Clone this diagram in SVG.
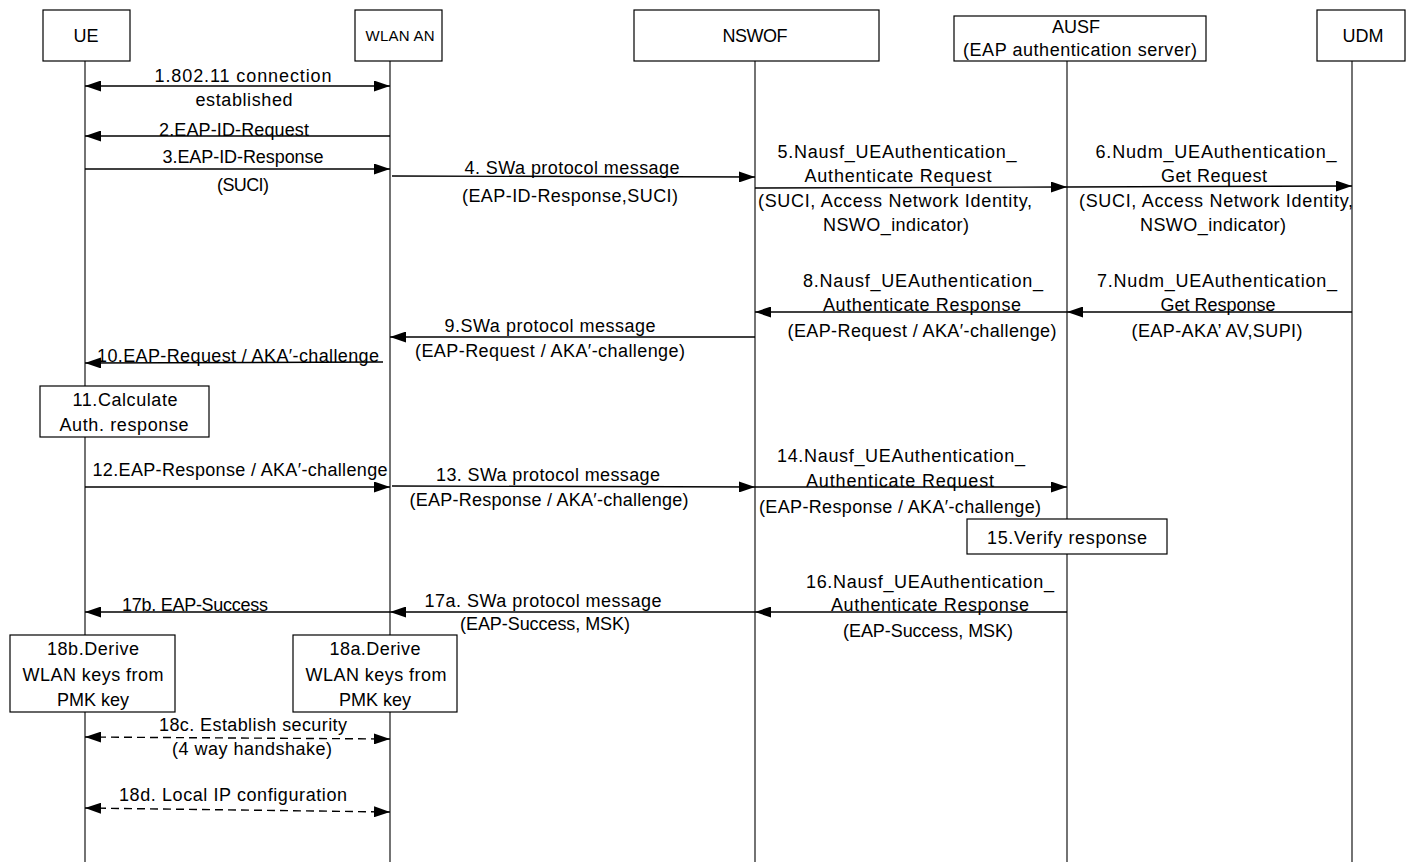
<svg xmlns="http://www.w3.org/2000/svg" width="1408" height="862" viewBox="0 0 1408 862">
<style>
text{font-family:"Liberation Sans",Arial,sans-serif;font-size:18px;fill:#000;text-anchor:middle}
.hdr{font-size:18px}
.small{font-size:15px}
.box{fill:#fff;stroke:#000;stroke-width:1.2}
.life{stroke:#000;stroke-width:1.1;fill:none}
.msg{stroke:#000;stroke-width:1.4;fill:none;marker-end:url(#ah)}
.both{marker-start:url(#ah)}
.dash{stroke-dasharray:8 5}
</style>
<defs>
<marker id="ah" viewBox="0 0 16 11" refX="16" refY="5.5" markerWidth="16" markerHeight="11" markerUnits="userSpaceOnUse" orient="auto-start-reverse">
<path d="M0,0 L16,5.5 L0,11 z" fill="#000"/>
</marker>
</defs>
<rect width="1408" height="862" fill="#fff"/>

<g id="lifelines">
<line class="life" x1="85" y1="61" x2="85" y2="862"/>
<line class="life" x1="390" y1="61" x2="390" y2="862"/>
<line class="life" x1="755" y1="61" x2="755" y2="862"/>
<line class="life" x1="1067" y1="61" x2="1067" y2="862"/>
<line class="life" x1="1352" y1="61" x2="1352" y2="862"/>
</g>

<g id="UE"><rect class="box" x="43" y="10" width="87" height="51"/><text class="hdr" x="86" y="42">UE</text></g>
<g id="WLAN_AN"><rect class="box" x="355" y="10" width="87" height="51"/><text class="small" x="400" y="41" textLength="69">WLAN AN</text></g>
<g id="NSWOF"><rect class="box" x="634" y="10" width="245" height="51"/><text class="hdr" x="755" y="42" textLength="65">NSWOF</text></g>
<g id="AUSF"><rect class="box" x="954" y="16" width="252" height="45"/><text class="hdr" x="1076" y="33">AUSF</text><text x="1080" y="56" textLength="234">(EAP authentication server)</text></g>
<g id="UDM"><rect class="box" x="1317" y="10" width="88" height="51"/><text class="hdr" x="1363" y="42">UDM</text></g>

<g id="connectors">
<line class="msg both" x1="85" y1="86" x2="390" y2="86"/>
<line class="msg" x1="390" y1="136" x2="85" y2="136"/>
<line class="msg" x1="85" y1="169" x2="390" y2="169"/>
<line class="msg" x1="392" y1="176" x2="755" y2="177"/>
<line class="msg" x1="755" y1="188" x2="1067" y2="187"/>
<line class="msg" x1="1067" y1="187" x2="1352" y2="186"/>
<line class="msg" x1="1352" y1="312" x2="1067" y2="312"/>
<line class="msg" x1="1067" y1="312" x2="755" y2="312"/>
<line class="msg" x1="755" y1="337" x2="390" y2="337"/>
<line class="msg" x1="383" y1="362" x2="85" y2="363"/>
<line class="msg" x1="85" y1="487" x2="390" y2="487"/>
<line class="msg" x1="392" y1="486" x2="755" y2="487"/>
<line class="msg" x1="755" y1="487" x2="1067" y2="487"/>
<line class="msg" x1="1067" y1="612" x2="755" y2="612"/>
<line class="msg" x1="755" y1="612" x2="390" y2="612"/>
<line class="msg" x1="390" y1="612" x2="85" y2="612"/>
<line class="msg both dash" x1="85" y1="737" x2="390" y2="739"/>
<line class="msg both dash" x1="85" y1="808" x2="390" y2="812"/>
</g>

<g id="labels">
<text x="243" y="82" textLength="177">1.802.11 connection</text>
<text x="244" y="106" textLength="97">established</text>
<text x="234" y="136" textLength="150">2.EAP-ID-Request</text>
<text x="243" y="163" textLength="161">3.EAP-ID-Response</text>
<text x="243" y="191" textLength="52">(SUCI)</text>
<text x="572" y="174" textLength="215">4. SWa protocol message</text>
<text x="570" y="202" textLength="216">(EAP-ID-Response,SUCI)</text>

<text x="897" y="158" textLength="239">5.Nausf_UEAuthentication_</text>
<text x="898" y="182" textLength="187">Authenticate Request</text>
<text x="895" y="207" textLength="274">(SUCI, Access Network Identity,</text>
<text x="896" y="231" textLength="146">NSWO_indicator)</text>

<text x="1216" y="158" textLength="241">6.Nudm_UEAuthentication_</text>
<text x="1214" y="182" textLength="106">Get Request</text>
<text x="1216" y="207" textLength="274">(SUCI, Access Network Identity,</text>
<text x="1213" y="231" textLength="146">NSWO_indicator)</text>

<text x="1217" y="287" textLength="240">7.Nudm_UEAuthentication_</text>
<text x="1218" y="311" textLength="115">Get Response</text>
<text x="1217" y="337" textLength="171">(EAP-AKA’ AV,SUPI)</text>

<text x="923" y="287" textLength="240">8.Nausf_UEAuthentication_</text>
<text x="922" y="311" textLength="198">Authenticate Response</text>
<text x="922" y="337" textLength="269">(EAP-Request / AKA′-challenge)</text>

<text x="550" y="332" textLength="211">9.SWa protocol message</text>
<text x="550" y="357" textLength="270">(EAP-Request / AKA′-challenge)</text>

<text x="238" y="362" textLength="282">10.EAP-Request / AKA′-challenge</text>

<text x="240" y="476" textLength="295">12.EAP-Response / AKA′-challenge</text>
<text x="548" y="481" textLength="224">13. SWa protocol message</text>
<text x="549" y="506" textLength="279">(EAP-Response / AKA′-challenge)</text>

<text x="901" y="462" textLength="248">14.Nausf_UEAuthentication_</text>
<text x="900" y="487" textLength="188">Authenticate Request</text>
<text x="900" y="513" textLength="282">(EAP-Response / AKA′-challenge)</text>

<text x="930" y="588" textLength="248">16.Nausf_UEAuthentication_</text>
<text x="930" y="611" textLength="198">Authenticate Response</text>
<text x="928" y="637" textLength="170">(EAP-Success, MSK)</text>

<text x="543" y="607" textLength="237">17a. SWa protocol message</text>
<text x="545" y="630" textLength="170">(EAP-Success, MSK)</text>
<text x="195" y="611" textLength="146">17b. EAP-Success</text>

<text x="253" y="731" textLength="188">18c. Establish security</text>
<text x="252" y="755" textLength="160">(4 way handshake)</text>
<text x="233" y="801" textLength="228">18d. Local IP configuration</text>
</g>

<g id="step11"><rect class="box" x="40" y="386" width="169" height="51"/><text x="125" y="406" textLength="105">11.Calculate</text><text x="124" y="431" textLength="129">Auth. response</text></g>
<g id="step15"><rect class="box" x="967" y="519" width="200" height="35"/><text x="1067" y="544" textLength="160">15.Verify response</text></g>
<g id="step18b"><rect class="box" x="10" y="635" width="165" height="77"/><text x="93" y="655" textLength="92">18b.Derive</text><text x="93" y="681" textLength="141">WLAN keys from</text><text x="93" y="706" textLength="72">PMK key</text></g>
<g id="step18a"><rect class="box" x="293" y="635" width="164" height="77"/><text x="375" y="655" textLength="91">18a.Derive</text><text x="376" y="681" textLength="141">WLAN keys from</text><text x="375" y="706" textLength="72">PMK key</text></g>
</svg>
